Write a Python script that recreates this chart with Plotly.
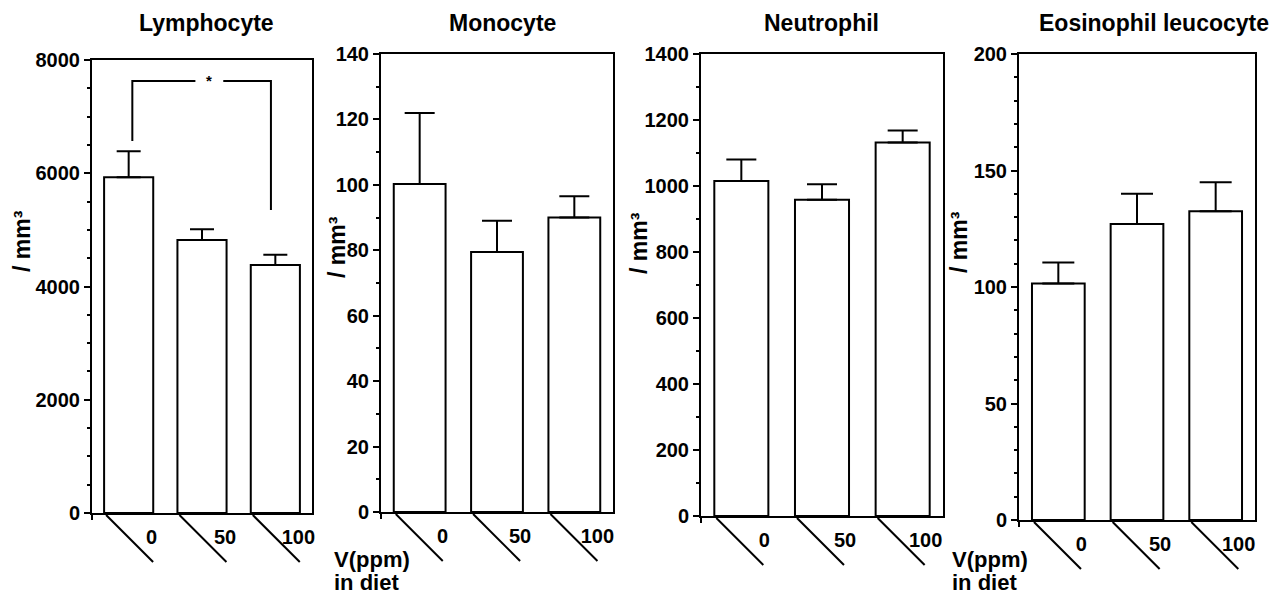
import plotly.graph_objects as go

W, H = 1276, 598

# ---------------- data ----------------
doses = ["0", "50", "100"]
titles = ["Lymphocyte", "Monocyte", "Neutrophil", "Eosinophil leucocyte"]

lymph_mean = [5930, 4820, 4380]
lymph_upper = [6390, 5010, 4560]
mono_mean = [100.3, 79.5, 90.0]
mono_upper = [122.0, 89.0, 96.5]
neut_mean = [1015, 958, 1132]
neut_upper = [1080, 1005, 1168]
eos_mean = [101.5, 127.0, 132.5]
eos_upper = [110.5, 140.0, 145.0]

y_max = [8000, 140, 1400, 200]
y_major = [2000, 20, 200, 50]
y_minor = [500, 10, 100, 10]

# significance bracket on Lymphocyte (0 ppm vs 100 ppm)
bracket_x = [0.05, 0.05, 0.91, None, 1.29, 1.94, 1.94]
bracket_y = [6570, 7630, 7630, None, 7630, 7630, 5350]
star_x, star_y = 1.09, 7630

means = [lymph_mean, mono_mean, neut_mean, eos_mean]
uppers = [lymph_upper, mono_upper, neut_upper, eos_upper]

# ---------------- layout geometry (pixels) ----------------
boxes = [  # x0, x1, ytop, ybottom
    (92, 312, 60, 513),
    (381, 613, 54, 512),
    (701, 943, 54, 516),
    (1019, 1255, 54, 520),
]
title_x = [206, 502, 821, 1154]
ytitle_pos = [(22, 241), (337, 247), (639, 243), (959, 242)]
cap_w = [12, 15, 15, 16]
bar_w = 0.67

FONT = "Liberation Sans, Arial, Helvetica, sans-serif"

fig = go.Figure()
layout = dict(
    width=W, height=H,
    margin=dict(l=0, r=0, t=0, b=0, pad=0, autoexpand=False),
    paper_bgcolor="white", plot_bgcolor="white",
    showlegend=False,
    font=dict(family=FONT, color="black", weight="bold"),
)
shapes = []
annotations = []

xpos = [0, 1, 2]
for i in range(4):
    x0, x1, yt, yb = boxes[i]
    sfx = "" if i == 0 else str(i + 1)
    xa, ya = "x" + sfx, "y" + sfx
    m, u = means[i], uppers[i]
    fig.add_trace(go.Bar(
        x=xpos, y=m, width=bar_w,
        marker=dict(color="white", line=dict(color="black", width=2)),
        error_y=dict(type="data", symmetric=False,
                     array=[u[k] - m[k] for k in range(3)],
                     arrayminus=[0, 0, 0],
                     color="black", thickness=2, width=cap_w[i]),
        xaxis=xa, yaxis=ya, hoverinfo="skip",
    ))
    layout["xaxis" + sfx] = dict(
        domain=[x0 / W, x1 / W], anchor=ya, automargin=False,
        range=[-0.5, 2.5], tickvals=xpos, ticktext=doses,
        showline=True, linecolor="black", linewidth=2, mirror=True,
        ticks="", showgrid=False, zeroline=False,
        tickfont=dict(family=FONT, size=20, color="black", weight="bold"),
        ticklabelshift=23, ticklabelstandoff=5,
    )
    layout["yaxis" + sfx] = dict(
        domain=[1 - yb / H, 1 - yt / H], anchor=xa, automargin=False,
        range=[0, y_max[i]], tick0=0, dtick=y_major[i],
        showline=True, linecolor="black", linewidth=2, mirror=True,
        ticks="outside", ticklen=6, tickwidth=2, tickcolor="black",
        minor=dict(dtick=y_minor[i], ticks="outside", ticklen=3,
                   tickwidth=1.5, tickcolor="black", showgrid=False),
        showgrid=False, zeroline=False,
        tickfont=dict(family=FONT, size=20, color="black", weight="bold"),
    )
    pw, ph = x1 - x0, yb - yt
    # diagonal separators under the categories
    for k in xpos:
        fx = (k - bar_w / 2 + 0.5) / 3
        shapes.append(dict(
            type="line", xref=xa + " domain", yref=ya + " domain",
            x0=fx + 2 / pw, y0=-2 / ph, x1=fx + 49 / pw, y1=-49 / ph,
            line=dict(color="black", width=2),
        ))
    # y-axis extension below zero
    shapes.append(dict(
        type="line", xref=xa + " domain", yref=ya + " domain",
        x0=0, y0=0, x1=0, y1=-7 / ph, line=dict(color="black", width=2),
    ))
    # panel title
    annotations.append(dict(
        text=titles[i], xref="paper", yref="paper",
        x=title_x[i] / W, y=1 - 23 / H, xanchor="center", yanchor="middle",
        showarrow=False, font=dict(family=FONT, size=23, color="black", weight="bold"),
    ))
    # y axis title
    tx, ty = ytitle_pos[i]
    annotations.append(dict(
        text="/ mm³", xref="paper", yref="paper",
        x=tx / W, y=1 - ty / H, xanchor="center", yanchor="middle",
        textangle=-90, showarrow=False,
        font=dict(family=FONT, size=23, color="black", weight="bold"),
    ))

# "V(ppm) in diet" labels
for lx in (332, 950):
    for txt, cy in (("V(ppm)", 559), ("in diet", 582)):
        annotations.append(dict(
            text=txt, xref="paper", yref="paper",
            x=lx / W, y=1 - cy / H, xanchor="left", yanchor="middle", align="left",
            showarrow=False, font=dict(family=FONT, size=22, color="black", weight="bold"),
        ))

# significance bracket
fig.add_trace(go.Scatter(
    x=bracket_x, y=bracket_y, mode="lines",
    line=dict(color="black", width=2), xaxis="x", yaxis="y", hoverinfo="skip",
))
annotations.append(dict(
    text="*", xref="x", yref="y", x=star_x, y=star_y,
    xanchor="center", yanchor="middle", showarrow=False,
    font=dict(family=FONT, size=15, color="black", weight="bold"),
))

layout["shapes"] = shapes
layout["annotations"] = annotations
fig.update_layout(**layout)
fig.write_html("out.html")
